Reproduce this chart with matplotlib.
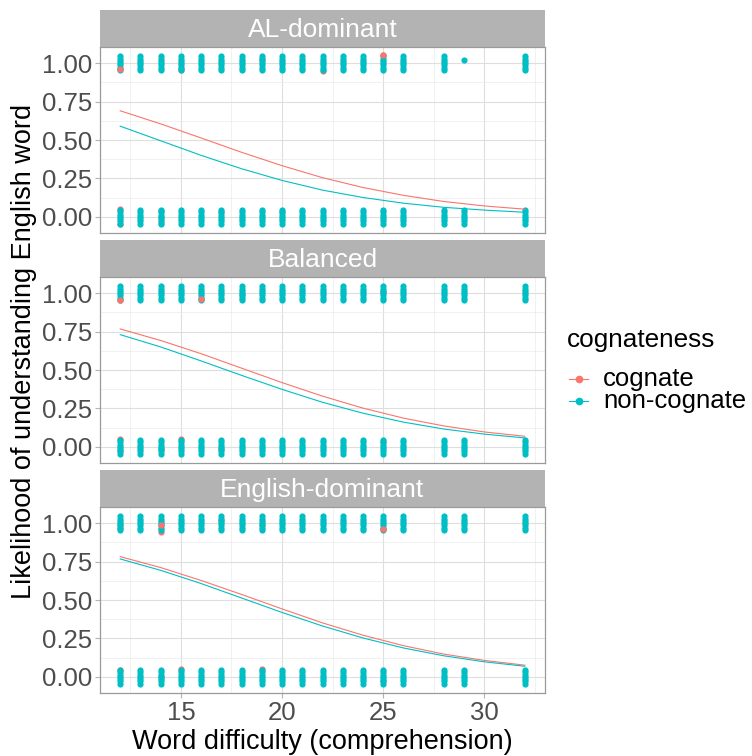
import numpy as np
import matplotlib
matplotlib.use("Agg")
import matplotlib.pyplot as plt
from matplotlib.lines import Line2D

plt.rcParams['font.family'] = ['Liberation Sans', 'DejaVu Sans']

# word difficulty levels seen in every panel
x_levels = [12, 13, 14, 15, 16, 17, 18, 19, 20, 21, 22, 23, 24, 25, 26, 28, 29, 32]
groups = ['AL-dominant', 'Balanced', 'English-dominant']

# columns of non-cognate responses (1 = understood, 0 = not)
noncog_ones = {
    'AL-dominant': [12, 13, 14, 15, 16, 17, 18, 19, 20, 21, 22, 23, 24, 25, 26, 28, 32],
    'Balanced': x_levels,
    'English-dominant': x_levels,
}
noncog_zeros = {g: x_levels for g in groups}
# lone non-cognate points
noncog_single = {
    'AL-dominant': [(29, 1.02)],
    'Balanced': [],
    'English-dominant': [],
}

# cognate points that peek out from under the cyan columns
cog_x = {
    'AL-dominant': [12, 25, 19, 15, 22, 15, 12, 12, 14, 14, 14, 17, 20],
    'Balanced': [12, 16, 18, 25, 12, 12, 14, 15, 17, 25],
    'English-dominant': [14, 25, 12, 12, 14, 17, 19, 12, 15, 19, 25, 14],
}
cog_y = {
    'AL-dominant': [0.964, 1.05, 1.03, 0.953, 0.95, 0.97,
                    0.054, -0.048, 0.04, 0.0, -0.04, 0.03, 0.03],
    'Balanced': [0.955, 0.96, 0.99, 1.01, 0.05, -0.03, -0.015, 0.05, -0.015, 0.032],
    'English-dominant': [0.99, 0.96, 0.99, 0.97, 0.94, 1.02, 0.99,
                         0.043, 0.048, 0.05, -0.03, 0.0],
}

# fitted curves
curve_x = [12, 14, 16, 18, 20, 22, 24, 26, 28, 30, 32]
fit_cog = {
    'AL-dominant': [0.690, 0.605, 0.513, 0.420, 0.333, 0.255, 0.191, 0.140, 0.100, 0.071, 0.050],
    'Balanced': [0.767, 0.692, 0.606, 0.512, 0.418, 0.330, 0.252, 0.187, 0.136, 0.097, 0.069],
    'English-dominant': [0.782, 0.711, 0.627, 0.536, 0.442, 0.351, 0.271, 0.203, 0.148, 0.107, 0.076],
}
fit_noncog = {
    'AL-dominant': [0.590, 0.495, 0.400, 0.313, 0.237, 0.174, 0.126, 0.089, 0.062, 0.044, 0.030],
    'Balanced': [0.730, 0.650, 0.559, 0.465, 0.374, 0.290, 0.219, 0.161, 0.116, 0.083, 0.058],
    'English-dominant': [0.767, 0.693, 0.607, 0.513, 0.419, 0.331, 0.253, 0.188, 0.137, 0.098, 0.069],
}

legend_labels = ['cognate', 'non-cognate']

red = '#F8766D'
cyan = '#00BFC4'
jitter = [-0.045, -0.03, -0.015, 0.0, 0.015, 0.03, 0.045]

W, H = 752, 756
fig = plt.figure(figsize=(W / 100, H / 100), dpi=100)

left, right = 100, 545
block_tops = [10, 240, 470]
strip_h = 37
panel_h = 186

for i, g in enumerate(groups):
    top = block_tops[i]
    # strip
    sax = fig.add_axes([left / W, 1 - (top + strip_h) / H, (right - left) / W, strip_h / H])
    sax.set_facecolor('#B3B3B3')
    sax.set_xticks([])
    sax.set_yticks([])
    for s in sax.spines.values():
        s.set_visible(False)
    sax.text(0.5, 0.47, g, color='white', fontsize=19, ha='center', va='center',
             transform=sax.transAxes)

    ax = fig.add_axes([left / W, 1 - (top + strip_h + panel_h) / H,
                       (right - left) / W, panel_h / H])
    ax.set_xlim(11, 33)
    ax.set_ylim(-0.105, 1.105)
    ax.set_xticks([15, 20, 25, 30])
    ax.set_xticks([12.5, 17.5, 22.5, 27.5, 32.5], minor=True)
    ax.set_yticks([0, 0.25, 0.5, 0.75, 1.0])
    ax.set_yticks([0.125, 0.375, 0.625, 0.875], minor=True)
    ax.set_yticklabels(['0.00', '0.25', '0.50', '0.75', '1.00'])
    ax.grid(which='major', color='#DEDEDE', linewidth=0.8)
    ax.grid(which='minor', color='#EBEBEB', linewidth=0.5)
    ax.set_axisbelow(True)
    for s in ax.spines.values():
        s.set_color('#9A9A9A')
        s.set_linewidth(0.9)
    ax.tick_params(which='major', color='#B3B3B3', length=3.5, width=0.8,
                   labelsize=18.5, labelcolor='#4D4D4D', pad=2)
    ax.tick_params(which='minor', length=0)
    if i < 2:
        ax.tick_params(axis='x', which='major', labelbottom=False, length=0)
    else:
        ax.tick_params(axis='x', pad=2)

    # cognate points first, then the cyan columns over them
    ax.scatter(cog_x[g], cog_y[g], s=20, color=red, linewidths=0, zorder=2)
    for val, xs in ((1.0, noncog_ones[g]), (0.0, noncog_zeros[g])):
        px = np.repeat(xs, len(jitter))
        py = val + np.tile(jitter, len(xs))
        ax.scatter(px, py, s=20, color=cyan, linewidths=0, zorder=3)
    if noncog_single[g]:
        sx, sy = zip(*noncog_single[g])
        ax.scatter(sx, sy, s=20, color=cyan, linewidths=0, zorder=3)
    # a few cognate dots sit on top
    ax.scatter(cog_x[g][:2], cog_y[g][:2], s=20, color=red, linewidths=0, zorder=4)

    ax.plot(curve_x, fit_cog[g], color=red, linewidth=0.8, zorder=5)
    ax.plot(curve_x, fit_noncog[g], color=cyan, linewidth=0.8, zorder=5)

fig.text((left + right) / 2 / W, 1 - 742 / H, 'Word difficulty (comprehension)',
         fontsize=19.5, ha='center', va='center')
fig.text(24 / W, 1 - 351 / H, 'Likelihood of understanding English word',
         fontsize=19.5, ha='center', va='center', rotation=90)

# legend, placed by hand like the ggplot guide
fig.text(567 / W, 1 - 340 / H, 'cognateness', fontsize=18.8, ha='left', va='center')
for col, lab, yc in zip([red, cyan], legend_labels, [379, 401]):
    yf = 1 - yc / H
    fig.add_artist(Line2D([569 / W, 588 / W], [yf, yf], color=col, linewidth=0.8,
                          transform=fig.transFigure))
    fig.add_artist(Line2D([578.5 / W], [yf], color=col, marker='o', markersize=4.5,
                          linewidth=0, transform=fig.transFigure))
    fig.text(603 / W, yf, lab, fontsize=18.5, ha='left', va='center')

fig.savefig('out.png', dpi=100)
